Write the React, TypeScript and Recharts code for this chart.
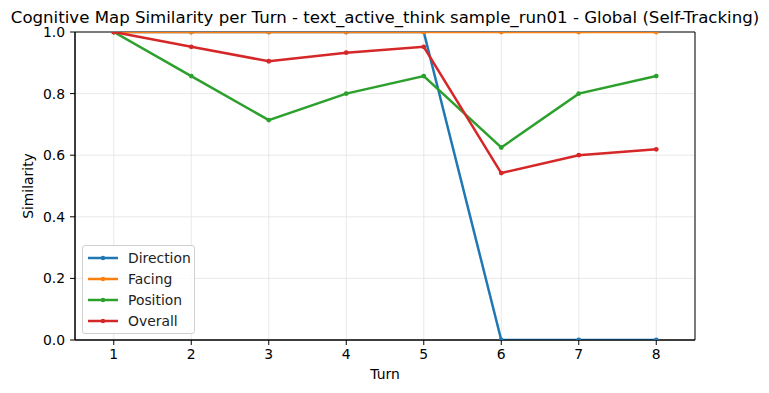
import React from "react";
import {
  LineChart,
  Line,
  XAxis,
  YAxis,
  CartesianGrid,
  ReferenceArea,
} from "recharts";

const TURNS = [1, 2, 3, 4, 5, 6, 7, 8];
const DIRECTION = [1, 1, 1, 1, 1, 0, 0, 0];
const FACING = [1, 1, 1, 1, 1, 1, 1, 1];
const POSITION = [1, 0.857, 0.714, 0.8, 0.857, 0.625, 0.8, 0.857];
const OVERALL = [1, 0.952, 0.905, 0.933, 0.952, 0.542, 0.6, 0.619];

const X_TICKS = [1, 2, 3, 4, 5, 6, 7, 8];
const Y_TICKS = [0, 0.2, 0.4, 0.6, 0.8, 1.0];

const SERIES = [
  { key: "direction", name: "Direction", color: "#1f77b4" },
  { key: "facing", name: "Facing", color: "#ff7f0e" },
  { key: "position", name: "Position", color: "#2ca02c" },
  { key: "overall", name: "Overall", color: "#d62728" },
];

const data = TURNS.map((t, i) => ({
  turn: t,
  direction: DIRECTION[i],
  facing: FACING[i],
  position: POSITION[i],
  overall: OVERALL[i],
}));

const FONT = "DejaVu Sans, sans-serif";
const tickStyle = { fill: "#000", fontSize: 13.9, fontFamily: FONT };

function LegendBox() {
  return (
    <div
      style={{
        position: "absolute",
        left: 82,
        top: 245,
        boxSizing: "border-box",
        width: 113,
        height: 89,
        background: "rgba(255,255,255,0.8)",
        border: "1px solid #d0d0d0",
        borderRadius: 3,
        padding: "1px 0 0 4px",
        fontFamily: FONT,
        fontSize: 13.9,
        color: "#222",
      }}
    >
      {SERIES.map((s) => (
        <div key={s.key} style={{ display: "flex", alignItems: "center", height: 21 }}>
          <svg width={32} height={8} style={{ marginRight: 9 }}>
            <line x1={1} y1={4} x2={31} y2={4} stroke={s.color} strokeWidth={2.5} />
            <circle cx={16} cy={4} r={2.2} fill={s.color} />
          </svg>
          <span>{s.name}</span>
        </div>
      ))}
    </div>
  );
}

export default function App() {
  return (
    <div style={{ position: "absolute", left: 0, top: 0, width: 769, height: 393, background: "#fff" }}>
      <LineChart
        width={769}
        height={393}
        data={data}
        margin={{ top: 32, right: 74, bottom: 23, left: 35 }}
      >
        <CartesianGrid stroke="#e3e3e3" strokeWidth={0.8} />
        <XAxis
          dataKey="turn"
          type="number"
          domain={[0.5, 8.5]}
          allowDataOverflow
          ticks={X_TICKS}
          height={30}
          tick={tickStyle}
          tickSize={5}
          tickMargin={4}
          axisLine={{ stroke: "#000", strokeWidth: 1 }}
          tickLine={{ stroke: "#000" }}
        />
        <YAxis
          type="number"
          domain={[0, 1]}
          allowDataOverflow
          ticks={Y_TICKS}
          width={40}
          tick={tickStyle}
          tickFormatter={(v: number) => v.toFixed(1)}
          tickSize={5}
          tickMargin={5}
          axisLine={{ stroke: "#000", strokeWidth: 1 }}
          tickLine={{ stroke: "#000" }}
        />
        {SERIES.map((s) => (
          <Line
            key={s.key}
            type="linear"
            dataKey={s.key}
            name={s.name}
            stroke={s.color}
            strokeWidth={2.5}
            dot={{ r: 2.4, fill: s.color, stroke: s.color, strokeWidth: 0 }}
            activeDot={false}
            isAnimationActive={false}
          />
        ))}
        <ReferenceArea
          x1={0.5}
          x2={8.5}
          y1={0}
          y2={1}
          fill="none"
          fillOpacity={0}
          stroke="#000"
          strokeWidth={1}
          ifOverflow="visible"
        />
      </LineChart>
      <div
        style={{
          position: "absolute",
          left: 0,
          width: 770,
          top: 10,
          lineHeight: 1,
          textAlign: "center",
          fontFamily: FONT,
          fontSize: 16.6,
          color: "#000",
          whiteSpace: "nowrap",
        }}
      >
        Cognitive Map Similarity per Turn - text_active_think sample_run01 - Global (Self-Tracking)
      </div>
      <div
        style={{
          position: "absolute",
          left: 385,
          top: 366,
          transform: "translateX(-50%)",
          fontFamily: FONT,
          fontSize: 13.9,
        }}
      >
        Turn
      </div>
      <div
        style={{
          position: "absolute",
          left: 28,
          top: 186,
          transform: "translate(-50%, -50%) rotate(-90deg)",
          fontFamily: FONT,
          fontSize: 13.9,
        }}
      >
        Similarity
      </div>
      <LegendBox />
    </div>
  );
}
